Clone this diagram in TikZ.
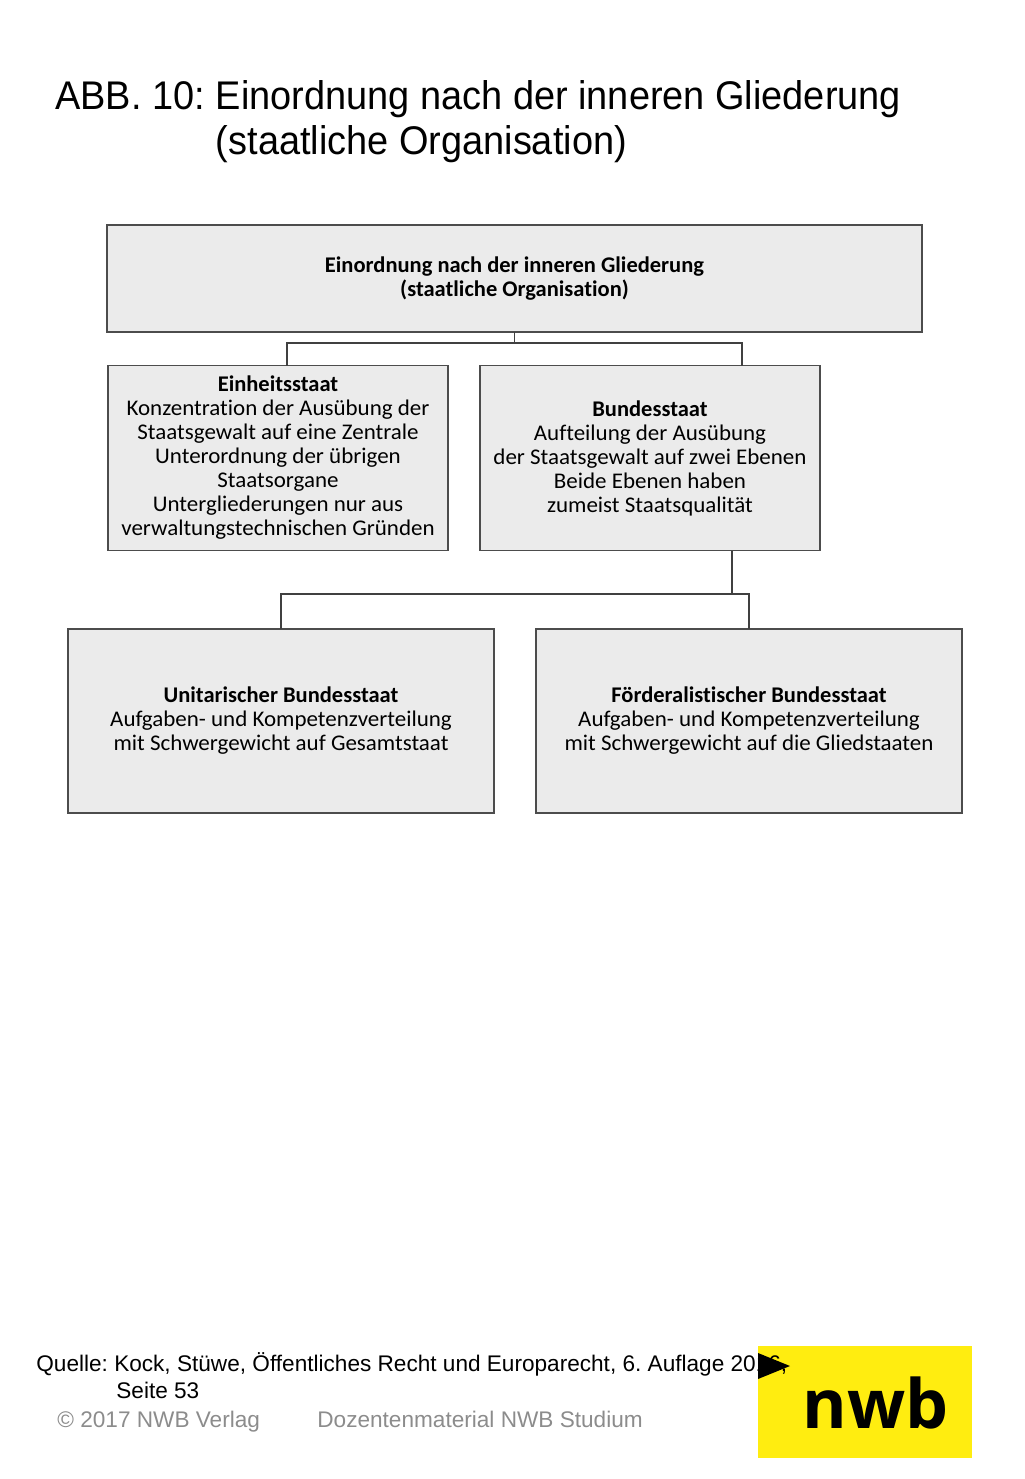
\documentclass[tikz,border=0pt]{standalone}
\usepackage{fontspec}
\setmainfont{Liberation Sans}
\newfontfamily\titlefont[FakeStretch=.948]{Liberation Sans}
\newfontfamily\boxfont[Ligatures=NoCommon,FakeStretch=1.026,BoldFeatures={FakeStretch=1.005}]{Carlito}
\newfontfamily\logofont{Open Sans}
\definecolor{boxgray}{HTML}{EBEBEB}
\definecolor{nwbyellow}{HTML}{FFED10}
\tikzset{
  orgbox/.style={draw=black!70,fill=boxgray,line width=.6pt,inner sep=0pt,outer sep=0pt,align=center,font=\boxfont\fontsize{11.2}{12}\selectfont},
  conn/.style={draw=black!75,line width=.6pt},
  titletext/.style={anchor=base west,inner sep=0pt,font=\titlefont\fontsize{20}{24}\selectfont\frenchspacing},
  sourcetext/.style={anchor=base west,inner sep=0pt,font=\fontsize{11.3}{14}\selectfont\frenchspacing},
  greytext/.style={sourcetext,text=black!45}
}
\begin{document}
\begin{tikzpicture}[x=.5pt,y=-.5pt]
\useasboundingbox (0,0) rectangle (1024,1479);
\node[titletext] (abb) at (55,109) {ABB. 10:};
\node[titletext] (title1) at (215.5,109) {Einordnung nach der inneren Gliederung};
\node[titletext] (title2) at (215.5,154) {(staatliche Organisation)};
\node[orgbox,minimum width=407.5pt,minimum height=53.5pt] (top) at (514.5,278.5) {\textbf{Einordnung nach der inneren Gliederung}\\\textbf{(staatliche Organisation)}};
\node[orgbox,minimum width=170pt,minimum height=92.5pt] (einheit) at (278,458) {\textbf{Einheitsstaat}\\Konzentration der Ausübung der\\Staatsgewalt auf eine Zentrale\\Unterordnung der übrigen\\Staatsorgane\\Untergliederungen nur aus\\verwaltungstechnischen Gründen};
\node[orgbox,minimum width=170pt,minimum height=92.5pt] (bund) at (650,458) {\textbf{Bundesstaat}\\Aufteilung der Ausübung\\der Staatsgewalt auf zwei Ebenen\\Beide Ebenen haben\\zumeist Staatsqualität};
\node[orgbox,minimum width=213pt,minimum height=92pt] (unitar) at (281,721) {\textbf{Unitarischer Bundesstaat}\\Aufgaben- und Kompetenzverteilung\\mit Schwergewicht auf Gesamtstaat};
\node[orgbox,minimum width=213pt,minimum height=92pt] (foeder) at (749,721) {\textbf{Förderalistischer Bundesstaat}\\Aufgaben- und Kompetenzverteilung\\mit Schwergewicht auf die Gliedstaaten};
\coordinate (topbar) at (514.5,343);
\coordinate (einheitin) at (287,366);
\coordinate (bundin) at (742,366);
\coordinate (bundout) at (732,551);
\coordinate (lowbar) at (732,594);
\draw[conn] (top.south) -- (topbar) -| (einheitin);
\draw[conn] (topbar) -| (bundin);
\draw[conn] (bundout) -- (lowbar) -| (unitar.north);
\draw[conn] (lowbar) -| (foeder.north);
\node[fill=nwbyellow,minimum width=107pt,minimum height=56pt,inner sep=0pt] (logo) at (865,1402) {};
\node[anchor=base,inner sep=0pt,font=\logofont\bfseries\fontsize{34}{35}\selectfont] (nwb) at (875.5,1428) {nwb};
\node[sourcetext] (quelle) at (36,1371) {Quelle: Kock, Stüwe, Öffentliches Recht und Europarecht, 6. Auflage 2016,};
\node[sourcetext] (seite) at (116,1398) {Seite 53};
\node[greytext] (verlag) at (57,1427) {© 2017 NWB Verlag};
\node[greytext] (material) at (317,1427) {Dozentenmaterial NWB Studium};
\fill (758,1353)--(790,1366)--(758,1379)--cycle;
\end{tikzpicture}
\end{document}
